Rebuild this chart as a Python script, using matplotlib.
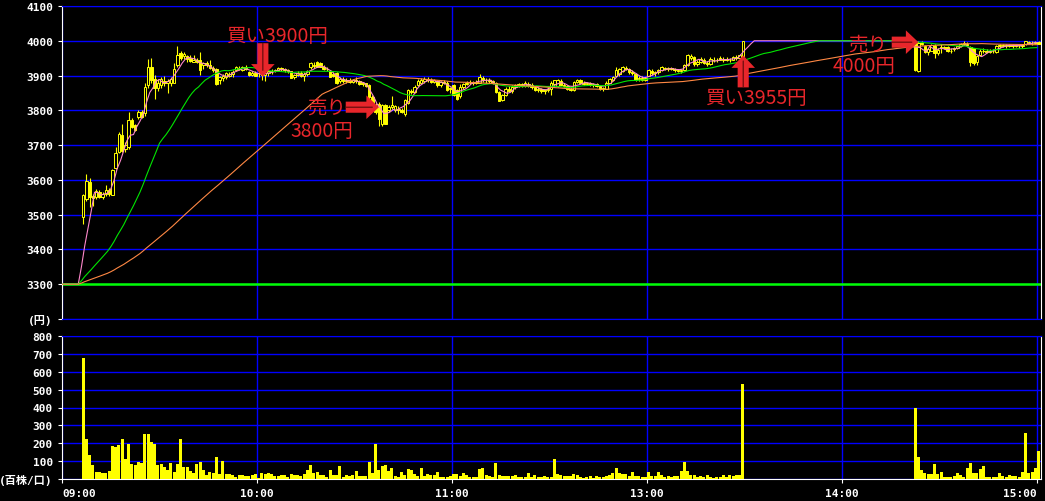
import numpy as np
import pandas as pd
import matplotlib
matplotlib.use("Agg")
import matplotlib.pyplot as plt

plt.rcParams['font.family'] = ['DejaVu Sans Mono', 'Noto Sans CJK JP']

# session minutes: 0 = 09:00, 150 = 11:30 / 12:30 (lunch collapsed), 300 = 15:00
prev_close = 3300
ma_windows = [5, 25, 75]
ma_colors = ['#ff88cc', '#00e600', '#ff8844']

tick_minutes = [0, 60, 120, 180, 240, 300]
tick_labels = ['09:00', '10:00', '11:00', '13:00', '14:00', '15:00']

# 1-minute candles (open, high, low, close), first trade 09:06
start_0906 = 6
ohlc_0906 = [
    (3494, 3558, 3474, 3556), (3545, 3618, 3540, 3598), (3594, 3604, 3522, 3552), (3555, 3560, 3525, 3548),
    (3550, 3575, 3545, 3568), (3565, 3572, 3548, 3552), (3552, 3565, 3545, 3560), (3558, 3585, 3555, 3570),
    (3570, 3578, 3555, 3558), (3556, 3631, 3556, 3628), (3633, 3695, 3630, 3676), (3681, 3738, 3678, 3733),
    (3728, 3762, 3681, 3684), (3690, 3710, 3680, 3700), (3695, 3794, 3690, 3772), (3772, 3778, 3750, 3753),
    (3757, 3760, 3740, 3743), (3781, 3800, 3775, 3796), (3796, 3800, 3778, 3781), (3791, 3880, 3785, 3868),
    (3872, 3949, 3865, 3925), (3925, 3951, 3880, 3887), (3891, 3901, 3834, 3863), (3865, 3890, 3855, 3878),
    (3872, 3895, 3865, 3891), (3885, 3900, 3870, 3880), (3880, 3890, 3850, 3885), (3880, 3895, 3870, 3890),
    (3880, 3935, 3878, 3920), (3930, 3986, 3925, 3959), (3964, 3970, 3945, 3950), (3955, 3968, 3948, 3962),
    (3955, 3960, 3940, 3948), (3950, 3958, 3940, 3942), (3940, 3960, 3938, 3946), (3944, 3950, 3935, 3940),
    (3944, 3968, 3903, 3916), (3930, 3940, 3920, 3935), (3935, 3942, 3925, 3930), (3930, 3946, 3920, 3922),
    (3922, 3928, 3910, 3915), (3920, 3922, 3872, 3877), (3887, 3900, 3875, 3897), (3892, 3905, 3885, 3900),
    (3895, 3910, 3890, 3907), (3900, 3910, 3895, 3905), (3905, 3915, 3897, 3910), (3916, 3928, 3912, 3926),
    (3922, 3928, 3915, 3920), (3916, 3928, 3912, 3926), (3926, 3930, 3915, 3918), (3910, 3912, 3900, 3902),
    (3902, 3912, 3898, 3908), (3908, 3912, 3898, 3900),
]
vol_0906 = [679, 224, 135, 76, 39, 39, 33, 35, 45, 185,
            180, 191, 224, 113, 197, 85, 76, 95, 91, 252,
            252, 208, 197, 76, 85, 67, 52, 91, 41, 85,
            224, 69, 69, 46, 32, 85, 96, 52, 20, 41,
            35, 124, 30, 102, 30, 26, 20, 11, 24, 24,
            15, 15, 20, 26]

start_1000 = 60
ohlc_1000 = [
    (3906, 3912, 3895, 3908), (3908, 3912, 3888, 3902), (3902, 3910, 3885, 3906), (3906, 3915, 3900, 3912),
    (3912, 3918, 3905, 3914), (3914, 3920, 3910, 3916), (3916, 3925, 3912, 3922), (3922, 3926, 3914, 3918),
    (3918, 3922, 3910, 3915), (3915, 3918, 3908, 3912), (3912, 3914, 3892, 3894), (3896, 3905, 3890, 3902),
    (3902, 3912, 3898, 3908), (3908, 3912, 3895, 3900), (3900, 3910, 3885, 3905), (3905, 3915, 3900, 3912),
    (3926, 3940, 3920, 3936), (3930, 3938, 3922, 3928), (3939, 3942, 3925, 3926), (3935, 3940, 3924, 3926),
    (3926, 3930, 3915, 3918), (3918, 3925, 3912, 3920), (3912, 3915, 3895, 3897), (3905, 3910, 3895, 3900),
    (3907, 3910, 3875, 3878), (3885, 3895, 3878, 3890), (3890, 3895, 3880, 3884), (3884, 3892, 3880, 3888),
    (3888, 3892, 3878, 3882), (3882, 3890, 3880, 3886), (3886, 3895, 3878, 3884), (3884, 3888, 3872, 3876),
    (3876, 3882, 3870, 3880), (3878, 3880, 3868, 3870), (3873, 3875, 3830, 3839), (3839, 3845, 3800, 3805),
    (3810, 3820, 3790, 3795), (3819, 3825, 3756, 3776), (3762, 3818, 3756, 3815), (3815, 3818, 3760, 3762),
    (3800, 3815, 3795, 3810), (3810, 3840, 3805, 3815), (3800, 3815, 3795, 3812), (3805, 3812, 3790, 3800),
    (3800, 3808, 3792, 3796), (3790, 3834, 3785, 3830), (3820, 3860, 3818, 3858), (3855, 3862, 3848, 3852),
    (3852, 3872, 3850, 3868), (3873, 3890, 3870, 3885), (3880, 3892, 3875, 3888), (3885, 3895, 3880, 3890),
    (3890, 3896, 3882, 3886), (3886, 3892, 3878, 3882), (3882, 3890, 3878, 3888), (3885, 3888, 3868, 3872),
    (3872, 3885, 3868, 3882), (3882, 3888, 3875, 3880), (3880, 3885, 3855, 3858), (3860, 3868, 3850, 3864),
    (3873, 3876, 3840, 3845), (3858, 3862, 3829, 3834), (3840, 3875, 3836, 3868), (3868, 3880, 3862, 3876),
    (3876, 3884, 3872, 3880), (3880, 3886, 3875, 3878), (3878, 3884, 3874, 3882), (3882, 3888, 3876, 3880),
    (3880, 3904, 3878, 3895), (3892, 3898, 3882, 3886), (3886, 3892, 3880, 3888), (3888, 3892, 3880, 3884),
    (3884, 3888, 3876, 3880), (3880, 3882, 3850, 3852), (3852, 3855, 3826, 3828), (3830, 3848, 3826, 3845),
    (3845, 3866, 3842, 3862), (3862, 3870, 3852, 3856), (3856, 3872, 3850, 3868), (3868, 3876, 3860, 3872),
    (3872, 3880, 3866, 3876), (3876, 3880, 3868, 3870), (3870, 3884, 3866, 3880), (3876, 3882, 3868, 3872),
    (3872, 3878, 3862, 3866), (3866, 3870, 3855, 3858), (3858, 3866, 3852, 3862), (3862, 3865, 3850, 3856),
    (3856, 3862, 3848, 3858), (3858, 3866, 3852, 3862),
]
vol_1000 = [7, 32, 26, 35, 26, 15, 15, 20, 20, 11,
            26, 20, 20, 18, 28, 50, 78, 31, 41, 22,
            22, 13, 50, 22, 22, 72, 9, 22, 18, 24,
            44, 18, 18, 18, 94, 33, 194, 52, 74, 78,
            44, 61, 17, 9, 37, 22, 56, 50, 28, 18,
            59, 18, 28, 22, 22, 41, 9, 13, 13, 18,
            28, 28, 18, 33, 22, 9, 9, 13, 56, 61,
            22, 18, 9, 89, 22, 18, 18, 15, 18, 22,
            13, 9, 13, 33, 9, 22, 13, 13, 18, 13]

start_1230 = 150
ohlc_1230 = [
    (3862, 3885, 3845, 3880), (3875, 3888, 3868, 3886), (3870, 3889, 3866, 3887), (3885, 3890, 3872, 3874),
    (3874, 3878, 3866, 3870), (3870, 3874, 3858, 3860), (3860, 3866, 3855, 3858), (3858, 3885, 3855, 3882),
    (3882, 3890, 3878, 3886), (3886, 3890, 3878, 3880), (3880, 3884, 3874, 3876), (3876, 3882, 3872, 3878),
    (3878, 3882, 3870, 3874), (3874, 3880, 3868, 3876), (3876, 3880, 3866, 3870), (3870, 3874, 3858, 3862),
    (3862, 3868, 3855, 3864), (3862, 3885, 3860, 3880), (3880, 3892, 3878, 3890), (3888, 3898, 3884, 3895),
    (3900, 3926, 3898, 3916), (3905, 3922, 3900, 3918), (3912, 3928, 3910, 3924), (3922, 3928, 3915, 3920),
    (3918, 3922, 3905, 3910), (3910, 3915, 3902, 3906), (3904, 3908, 3885, 3888), (3890, 3898, 3885, 3894),
    (3894, 3898, 3884, 3888), (3888, 3896, 3884, 3892), (3900, 3918, 3898, 3915), (3912, 3918, 3902, 3906),
    (3906, 3912, 3900, 3910), (3910, 3920, 3905, 3915), (3915, 3928, 3912, 3925), (3922, 3926, 3915, 3918),
    (3918, 3925, 3914, 3922), (3922, 3926, 3915, 3918), (3918, 3922, 3910, 3916), (3916, 3920, 3910, 3914),
    (3914, 3918, 3908, 3915), (3915, 3932, 3912, 3930), (3930, 3962, 3928, 3958), (3950, 3962, 3945, 3956),
    (3952, 3955, 3928, 3932), (3932, 3945, 3928, 3940), (3940, 3952, 3936, 3948), (3945, 3950, 3932, 3936),
    (3936, 3942, 3928, 3934), (3934, 3952, 3930, 3948), (3946, 3952, 3938, 3944), (3944, 3950, 3938, 3946),
    (3950, 3955, 3944, 3946), (3946, 3952, 3940, 3948), (3948, 3952, 3942, 3944), (3944, 3950, 3940, 3946),
    (3946, 3956, 3944, 3954), (3952, 3958, 3946, 3950), (3950, 3962, 3948, 3958), (3955, 4000, 3952, 4000),
]
vol_1230 = [13, 111, 28, 24, 18, 18, 18, 28, 22, 9,
            4, 13, 18, 4, 18, 13, 13, 18, 22, 33,
            61, 33, 28, 28, 15, 41, 18, 18, 9, 13,
            41, 18, 18, 41, 22, 13, 18, 13, 18, 18,
            44, 94, 44, 22, 22, 13, 15, 9, 22, 11,
            7, 11, 11, 22, 11, 22, 19, 22, 22, 534]

# stop-high 4000 from 13:30, trading resumes 14:22
start_1422 = 262
ohlc_1422 = [
    (4000, 4000, 3912, 3915), (3912, 3998, 3910, 3995), (3995, 4000, 3988, 3992), (3985, 3988, 3965, 3968),
    (3968, 3980, 3960, 3976), (3972, 3992, 3970, 3988), (3985, 3990, 3950, 3966), (3966, 3978, 3960, 3974),
    (3980, 3990, 3966, 3982), (3982, 3986, 3975, 3980), (3982, 3984, 3968, 3970), (3970, 3978, 3965, 3972),
    (3975, 3982, 3972, 3980), (3980, 3986, 3976, 3984), (3984, 3995, 3982, 3992), (3992, 3998, 3988, 3995),
    (3992, 3996, 3986, 3988), (3983, 3986, 3928, 3940), (3978, 3980, 3930, 3935), (3940, 3960, 3930, 3955),
    (3958, 3975, 3955, 3972), (3972, 3978, 3966, 3970), (3970, 3976, 3964, 3968), (3968, 3975, 3964, 3972),
    (3972, 3976, 3966, 3970), (3968, 3988, 3966, 3985), (3985, 3992, 3980, 3988), (3988, 3992, 3982, 3986),
    (3986, 3990, 3980, 3988), (3988, 3992, 3982, 3985), (3985, 3990, 3980, 3988), (3988, 3992, 3982, 3986),
    (3986, 3990, 3978, 3984), (3984, 3990, 3980, 3988), (3990, 4000, 3988, 3998), (3996, 4000, 3990, 3995),
    (3995, 3998, 3988, 3994), (3994, 4000, 3990, 3996), (3996, 3998, 3990, 3992),
]
vol_1422 = [395, 122, 52, 33, 28, 28, 83, 28, 41, 11,
            11, 11, 19, 33, 24, 11, 63, 89, 33, 33,
            56, 72, 11, 11, 11, 11, 33, 19, 11, 22,
            19, 19, 11, 41, 256, 33, 41, 63, 158]

segments = [(start_0906, ohlc_0906, vol_0906), (start_1000, ohlc_1000, vol_1000),
            (start_1230, ohlc_1230, vol_1230), (start_1422, ohlc_1422, vol_1422)]
rows = []
for start, ohlc, vol in segments:
    for i, (o, h, l, c) in enumerate(ohlc):
        rows.append((start + i, o, h, l, c, vol[i]))
df = pd.DataFrame(rows, columns=['minute', 'open', 'high', 'low', 'close', 'volume'])

# last price for every session minute (untraded minutes keep the last price)
closes = pd.Series(np.nan, index=np.arange(0, 301))
closes[0] = prev_close
closes.loc[df['minute'].values] = df['close'].values
closes = closes.ffill()
padded = pd.concat([pd.Series(float(prev_close), index=np.arange(-80, 0)), closes])

YELLOW = '#ffff00'
BLUE = '#0000ff'
RED = '#e8262b'
W, H = 1045, 502

fig = plt.figure(figsize=(10.45, 5.02), dpi=100, facecolor='black')
ax_p = fig.add_axes([62 / W, 1 - 320 / H, (1041 - 62) / W, (320 - 7) / H])
ax_v = fig.add_axes([62 / W, 1 - 480 / H, (1041 - 62) / W, (480 - 337) / H])

xmax = (1041 - 62) / 3.25
for ax in (ax_p, ax_v):
    ax.set_facecolor('black')
    ax.set_xlim(0, xmax)
    ax.set_xticks(tick_minutes)
    ax.grid(True, color=BLUE, lw=1.0)
    ax.set_axisbelow(True)
    ax.tick_params(colors='white', length=3, width=0.8, pad=3.5, labelsize=8)

# price panel
ax_p.set_ylim(3200, 4100)
ax_p.set_yticks(np.arange(3200, 4101, 100))
ax_p.set_yticklabels(['(円)'] + [str(v) for v in range(3300, 4101, 100)], fontweight='bold')
ax_p.tick_params(axis='x', length=0, labelbottom=False)
ax_p.spines['left'].set_color('white')
ax_p.spines['right'].set_color('white')
ax_p.spines['top'].set_color(BLUE)
ax_p.spines['bottom'].set_color(BLUE)

ax_p.axhline(prev_close, color='#00ff00', lw=1.8, zorder=2)

x = df['minute'] + 0.5
up = df['close'] >= df['open']
ax_p.vlines(x, df['low'], df['high'], color=YELLOW, lw=0.8, zorder=3)
body_lo = np.minimum(df['open'], df['close'])
body_h = np.maximum((df['close'] - df['open']).abs(), 0.6)
ax_p.bar(x, body_h, bottom=body_lo, width=0.72, color=np.where(up, 'black', YELLOW),
         edgecolor=YELLOW, lw=0.7, zorder=4)

for n, col in zip(ma_windows, ma_colors):
    ma = padded.rolling(n).mean().loc[0:]
    ax_p.plot(ma.index, ma.values, color=col, lw=0.8, zorder=5)

# trade annotations
txt = dict(color=RED, fontsize=14, family=['Noto Sans CJK JP'], va='center', ha='left', zorder=7)
arrow = dict(arrowstyle='simple,head_length=0.9,head_width=1.7,tail_width=0.8',
             fc=RED, ec='none', mutation_scale=10, shrinkA=0, shrinkB=0)
inner = dict(arrowstyle='-', color='#5a0a0a', lw=0.8, shrinkA=0, shrinkB=0)


def block_arrow(x0, y0, x1, y1, xi, yi):
    ax_p.annotate('', xy=(x1, y1), xytext=(x0, y0), arrowprops=arrow, zorder=7)
    ax_p.annotate('', xy=(xi, yi), xytext=(x0, y0), arrowprops=inner, zorder=8)


ax_p.text(50.5, 4016, '買い3900円', **txt)
block_arrow(61.8, 3993, 61.8, 3897, 61.8, 3915)
ax_p.text(75.4, 3809, '売り', **txt)
ax_p.text(70.2, 3743, '3800円', **txt)
block_arrow(87.3, 3809, 97.5, 3809, 95.5, 3809)
ax_p.text(197.8, 3838, '買い3955円', **txt)
block_arrow(209.6, 3866, 209.6, 3958, 209.6, 3942)
ax_p.text(241.8, 3991, '売り', **txt)
ax_p.text(237.2, 3930, '4000円', **txt)
block_arrow(255.3, 3996, 263.5, 3996, 261.5, 3996)

# volume panel
ax_v.set_ylim(0, 800)
ax_v.set_yticks(np.arange(0, 801, 100))
ax_v.set_yticklabels(['(百株/口)'] + [str(v) for v in range(100, 801, 100)], fontweight='bold')
ax_v.bar(x, df['volume'], width=0.9, color=YELLOW, lw=0, zorder=3)
ax_v.set_xticklabels(tick_labels, fontweight='bold')
labs = ax_v.get_xticklabels()
labs[0].set_ha('left')
labs[-1].set_ha('right')
for side in ('left', 'bottom', 'right'):
    ax_v.spines[side].set_color('white')
ax_v.spines['top'].set_color(BLUE)

fig.savefig('out.png', dpi=100, facecolor='black')
